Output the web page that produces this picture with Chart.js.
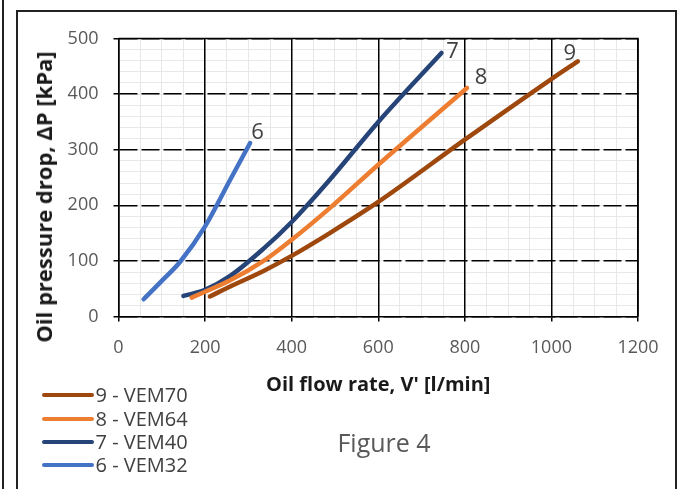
<!DOCTYPE html>
<html><head><meta charset="utf-8">
<script src="https://cdn.jsdelivr.net/npm/chart.js@4"></script>
<style>
html,body{margin:0;padding:0;background:#fff;}
#wrap{position:relative;width:678px;height:489px;overflow:hidden;background:#fff;font-family:"Open Sans",sans-serif;}
#c{position:absolute;left:0;top:0;}
.vline{position:absolute;left:2px;top:0;width:2px;height:489px;background:#222;}
.box{position:absolute;left:16px;top:10px;width:661px;height:520px;border:2px solid #222;box-sizing:border-box;}
#ytitle{position:absolute;left:43px;top:197px;transform:translate(-50%,-50%) rotate(-90deg);white-space:nowrap;font-weight:bold;font-size:22px;color:#1a1a1a;}
#legend{position:absolute;left:0;top:0;}
.lrow{position:absolute;height:24px;white-space:nowrap;font-size:20px;color:#404040;}
.lline{position:absolute;left:0;width:52px;height:4.5px;border-radius:3px;}
.ltext{position:absolute;left:54px;top:50%;transform:translateY(-50%);line-height:1;}
#fig{position:absolute;left:384px;top:442px;transform:translate(-50%,-50%);font-size:25px;color:#595959;white-space:nowrap;}
</style></head><body>
<div id="wrap">
<div class="vline"></div><div class="box"></div>
<canvas id="c" width="678" height="489"></canvas>
<div id="ytitle">Oil pressure drop, ΔP [kPa]</div>
<div id="legend"></div>
<div id="fig">Figure 4</div>
</div>
<script>
// ---- data ----
const xTickValues = [0, 200, 400, 600, 800, 1000, 1200];
const yTickValues = [0, 100, 200, 300, 400, 500];

const flowVEM70 = [211, 258, 335, 400, 488, 600, 800, 1000, 1061];
const dpVEM70   = [36, 54, 82, 109, 150, 206, 318, 427, 459];
const flowVEM64 = [169, 258, 335, 400, 488, 600, 805];
const dpVEM64   = [34, 65, 100, 138, 195, 273, 411];
const flowVEM40 = [150, 200, 258, 335, 400, 488, 600, 746];
const dpVEM40   = [37, 48, 73, 122, 170, 246, 350, 474];
const flowVEM32 = [58, 100, 142, 200, 258, 304];
const dpVEM32   = [31, 64, 98, 162, 246, 312];

const seriesNames  = ['9 - VEM70', '8 - VEM64', '7 - VEM40', '6 - VEM32'];
const seriesTags   = ['9', '8', '7', '6'];
const seriesColors = ['#9E480E', '#ED7D31', '#264478', '#4472C4'];
const seriesFlow   = [flowVEM70, flowVEM64, flowVEM40, flowVEM32];
const seriesDp     = [dpVEM70, dpVEM64, dpVEM40, dpVEM32];

// label offsets (style only)
const tagOffsets = [[-8, -8], [14, -10], [11, -1], [7.5, -10]];
const legendRowY = [395, 419, 442, 465];

// ---- legend (HTML) ----
const leg = document.getElementById('legend');
seriesNames.forEach((n, i) => {
  const r = document.createElement('div');
  r.className = 'lrow';
  r.style.left = '41.5px';
  r.style.top = (legendRowY[i] - 12) + 'px';
  const l = document.createElement('div');
  l.className = 'lline';
  l.style.background = seriesColors[i];
  l.style.top = '9.75px';
  const t = document.createElement('div');
  t.className = 'ltext';
  t.textContent = n;
  r.appendChild(l); r.appendChild(t);
  leg.appendChild(r);
});

const datasets = seriesNames.map((n, i) => ({
  label: n,
  tag: seriesTags[i],
  data: seriesFlow[i].map((x, j) => ({x: x, y: seriesDp[i][j]})),
  borderColor: seriesColors[i],
  backgroundColor: seriesColors[i],
  borderWidth: 4.5,
  borderCapStyle: 'round',
  borderJoinStyle: 'round',
  pointRadius: 0,
  showLine: true,
  cubicInterpolationMode: 'monotone',
  xAxisID: 'x', yAxisID: 'y'
}));

const framePlugin = {
  id: 'frame',
  beforeDatasetsDraw(chart) {
    const {ctx, chartArea: a} = chart;
    ctx.save();
    ctx.strokeStyle = '#000';
    ctx.lineWidth = 1.5;
    ctx.beginPath();
    ctx.moveTo(a.left, a.top); ctx.lineTo(a.right, a.top); ctx.lineTo(a.right, a.bottom);
    ctx.stroke();
    ctx.restore();
  }
};
const tagPlugin = {
  id: 'tags',
  afterDatasetsDraw(chart) {
    const ctx = chart.ctx;
    ctx.save();
    ctx.font = '22px "Open Sans"';
    ctx.fillStyle = '#404040';
    ctx.textAlign = 'center';
    ctx.textBaseline = 'middle';
    chart.data.datasets.forEach((ds, i) => {
      const meta = chart.getDatasetMeta(i);
      const p = meta.data[meta.data.length - 1];
      ctx.fillText(ds.tag, p.x + tagOffsets[i][0], p.y + tagOffsets[i][1]);
    });
    ctx.restore();
  }
};

Chart.defaults.font.family = '"Open Sans", sans-serif';
new Chart(document.getElementById('c'), {
  type: 'scatter',
  data: {datasets},
  options: {
    responsive: false,
    animation: false,
    devicePixelRatio: 1,
    layout: {padding: {left: 0, top: 38.5, right: 40, bottom: 92}},
    plugins: {legend: {display: false}, tooltip: {enabled: false}},
    scales: {
      xm: {
        type: 'linear', position: 'bottom', min: 0, max: 1200, z: -1,
        ticks: {display: false, stepSize: 50},
        grid: {color: '#e8e8e8', lineWidth: 1, drawTicks: false},
        border: {display: false},
        afterFit: s => { s.height = 0; }
      },
      ym: {
        type: 'linear', position: 'left', min: 0, max: 500, z: -1,
        ticks: {display: false, stepSize: 20},
        grid: {color: '#e8e8e8', lineWidth: 1, drawTicks: false},
        border: {display: false},
        afterFit: s => { s.width = 0; }
      },
      x: {
        type: 'linear', position: 'bottom', min: 0, max: 1200,
        afterBuildTicks: s => { s.ticks = xTickValues.map(v => ({value: v})); },
        ticks: {font: {size: 18}, color: '#595959', padding: 16, callback: v => String(v)},
        grid: {color: '#000', lineWidth: 1.5, tickLength: 5, tickColor: '#000', tickWidth: 1.5},
        border: {color: '#000', width: 1.5},
        title: {display: true, text: "Oil flow rate, V' [l/min]", font: {size: 20, weight: 'bold'}, color: '#1a1a1a', padding: 0},
        afterFit: s => { s.height = 80.5; }
      },
      y: {
        type: 'linear', position: 'left', min: 0, max: 500,
        afterBuildTicks: s => { s.ticks = yTickValues.map(v => ({value: v})); },
        ticks: {font: {size: 18}, color: '#595959', padding: 15, callback: v => String(v)},
        grid: {color: '#000', lineWidth: 1.5, tickLength: 5, tickColor: '#000', tickWidth: 1.5},
        border: {color: '#000', width: 1.5, dash: [18, 4]},
        afterFit: s => { s.width = 118.5; }
      }
    }
  },
  plugins: [framePlugin, tagPlugin]
});
</script>
</body></html>
